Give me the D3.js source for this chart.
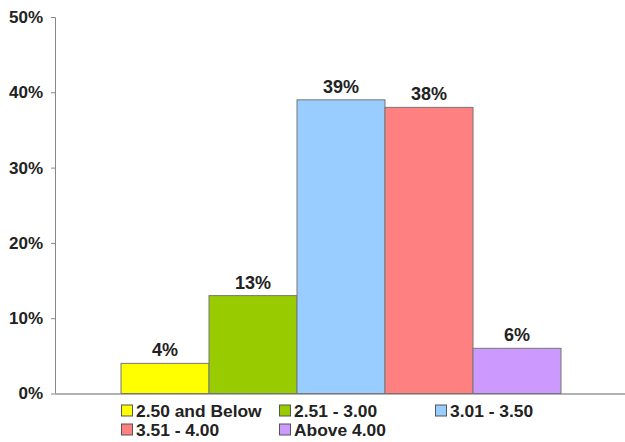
<!DOCTYPE html>
<html>
<head>
<meta charset="utf-8">
<script src="https://cdn.jsdelivr.net/npm/d3@7"></script>
<style>
  body { margin: 0; background: #fff; }
  svg { display: block; font-family: "Liberation Sans", Arial, sans-serif; }
</style>
</head>
<body>
<div id="chart"></div>
<script>
const categories = ["2.50 and Below", "2.51 - 3.00", "3.01 - 3.50", "3.51 - 4.00", "Above 4.00"];
const values = [4, 13, 39, 38, 6];
const colors = ["#ffff00", "#99cc00", "#99ccff", "#ff8080", "#cc99ff"];
const yTicks = [0, 10, 20, 30, 40, 50];

const width = 625, height = 442;
const margin = { top: 17, right: -2, bottom: 48.5, left: 55 };

const svg = d3.select("#chart").append("svg")
    .attr("width", width)
    .attr("height", height);

const innerW = width - margin.left - margin.right;
const innerH = height - margin.top - margin.bottom;

const g = svg.append("g")
    .attr("transform", `translate(${margin.left},${margin.top})`);

const y = d3.scaleLinear().domain([0, 50]).range([innerH, 0]);

// one group spanning the plot, five series inside it
const x0 = d3.scaleBand().domain(["all"]).range([0, innerW]).paddingInner(0).paddingOuter(0.15);
const x = d3.scaleBand().domain(categories).range([x0("all"), x0("all") + x0.bandwidth()]).padding(0);

const yAxis = d3.axisLeft(y).tickValues(yTicks).tickSize(4).tickFormat(d => d + "%");
const ya = g.append("g").call(yAxis);
ya.select(".domain").attr("stroke", "#888").attr("d", `M-4,0.5H0.5V${innerH}`);
ya.selectAll(".tick line").attr("stroke", "#888");
ya.selectAll(".tick text")
    .attr("x", -12)
    .attr("fill", "#222")
    .style("font-size", "17px")
    .style("font-weight", "bold");

g.append("line")
    .attr("x1", 0).attr("x2", innerW)
    .attr("y1", innerH + 0.5).attr("y2", innerH + 0.5)
    .attr("stroke", "#999").attr("stroke-width", 1.5);

g.selectAll("rect.bar")
    .data(categories)
    .join("rect")
    .attr("class", "bar")
    .attr("x", d => x(d))
    .attr("width", x.bandwidth())
    .attr("y", (d, i) => y(values[i]))
    .attr("height", (d, i) => innerH - y(values[i]))
    .attr("fill", (d, i) => colors[i])
    .attr("stroke", "#777")
    .attr("stroke-width", 1);

g.selectAll("text.lbl")
    .data(categories)
    .join("text")
    .attr("class", "lbl")
    .attr("x", d => x(d) + x.bandwidth() / 2)
    .attr("y", (d, i) => y(values[i]) - 7)
    .attr("text-anchor", "middle")
    .attr("fill", "#222")
    .style("font-size", "18px")
    .style("font-weight", "bold")
    .text((d, i) => values[i] + "%");

// legend: three columns, two rows
const legX = [121, 279, 435];
const legY = [410.5, 429.5];
const leg = svg.append("g");
categories.forEach((c, i) => {
    const col = i % 3, row = Math.floor(i / 3);
    const lg = leg.append("g").attr("transform", `translate(${legX[col]},${legY[row]})`);
    lg.append("rect")
        .attr("x", 0.5).attr("y", -5.5)
        .attr("width", 11).attr("height", 11)
        .attr("fill", colors[i])
        .attr("stroke", "#555");
    lg.append("text")
        .attr("x", 15).attr("y", 6)
        .attr("fill", "#222")
        .style("font-size", "17.4px")
        .style("font-weight", "bold")
        .text(c);
});
</script>
</body>
</html>
